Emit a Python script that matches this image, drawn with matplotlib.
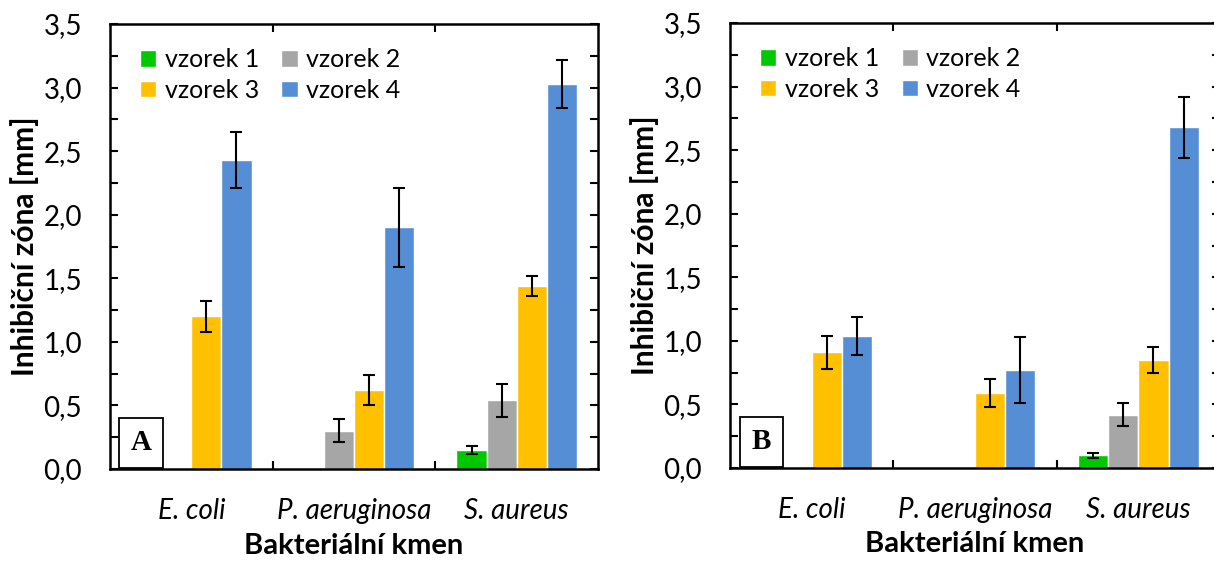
import numpy as np
import matplotlib
matplotlib.use("Agg")
import matplotlib.pyplot as plt
from matplotlib.ticker import MultipleLocator, FuncFormatter

plt.rcParams['font.family'] = ['Lato', 'DejaVu Sans']

strains = ['E. coli', 'P. aeruginosa', 'S. aureus']
samples = ['vzorek 1', 'vzorek 2', 'vzorek 3', 'vzorek 4']
colors = ['#00C800', '#A6A6A6', '#FFC000', '#558ED5']

# panel A: rows = samples, columns = strains
a_vals = [[0.0, 0.0, 0.15],
          [0.0, 0.30, 0.54],
          [1.20, 0.62, 1.44],
          [2.43, 1.90, 3.03]]
a_err = [[0.0, 0.0, 0.03],
         [0.0, 0.09, 0.13],
         [0.12, 0.12, 0.08],
         [0.22, 0.31, 0.19]]

# panel B
b_vals = [[0.0, 0.0, 0.10],
          [0.0, 0.0, 0.42],
          [0.91, 0.59, 0.85],
          [1.04, 0.77, 2.68]]
b_err = [[0.0, 0.0, 0.02],
         [0.0, 0.0, 0.09],
         [0.13, 0.11, 0.10],
         [0.15, 0.26, 0.24]]

panels = [('A', a_vals, a_err), ('B', b_vals, b_err)]

fig = plt.figure(figsize=(12.14, 5.63), dpi=100)
# right panel runs slightly past the canvas edge, as in the original
positions = [[110 / 1214, 94 / 563, 488 / 1214, 445 / 563],
             [730 / 1214, 95 / 563, 490 / 1214, 445 / 563]]

x = np.arange(len(strains))
w = 0.185

for pos, (tag, vals, errs) in zip(positions, panels):
    ax = fig.add_axes(pos)
    handles = []
    for i in range(len(samples)):
        off = (i - 1.5) * w
        b = ax.bar(x + off, vals[i], w, color=colors[i], edgecolor='white',
                   linewidth=1.0, label=samples[i], zorder=2)
        handles.append(b)
        show = [j for j in range(len(strains)) if vals[i][j] > 0]
        ax.errorbar(x[show] + off, np.array(vals[i])[show],
                    yerr=np.array(errs[i])[show], fmt='none', ecolor='black',
                    elinewidth=1.5, capsize=4.5, capthick=1.5, zorder=3)

    ax.set_xlim(-0.5, 2.5)
    ax.set_ylim(0, 3.5)
    ax.set_xticks(x)
    ax.set_xticklabels(strains, fontstyle='italic', fontsize=20)
    ax.set_xticks([0.5, 1.5], minor=True)
    ax.tick_params(axis='x', which='major', length=0, pad=21)
    ax.tick_params(axis='x', which='minor', direction='in', length=6,
                   width=1.5, top=True, bottom=True)
    ax.yaxis.set_major_locator(MultipleLocator(0.5))
    ax.yaxis.set_minor_locator(MultipleLocator(0.25))
    ax.yaxis.set_major_formatter(FuncFormatter(lambda v, p: f"{v:.1f}".replace('.', ',')))
    ax.tick_params(axis='y', which='both', direction='in', length=6, width=1.5,
                   left=True, right=True, labelsize=20, pad=20)
    for s in ax.spines.values():
        s.set_linewidth(1.8)

    ax.set_ylabel('Inhibiční zóna [mm]', fontsize=21.5, fontweight='bold', labelpad=3)
    ax.set_xlabel('Bakteriální kmen', fontsize=21, fontweight='bold', labelpad=6)

    # order so that rows read vzorek 1, 2 / vzorek 3, 4
    order = [0, 2, 1, 3]
    ax.legend([handles[k] for k in order], [samples[k] for k in order],
              ncol=2, loc='upper left', bbox_to_anchor=(0.025, 0.985), frameon=False,
              fontsize=18, handlelength=0.65, handleheight=0.65, handletextpad=0.35,
              columnspacing=0.9, labelspacing=0.3, borderaxespad=0.3)

    ax.text(0.064, 0.059, tag, transform=ax.transAxes, fontsize=21,
            fontweight='bold', family='Liberation Serif', ha='center', va='center',
            bbox=dict(boxstyle='square,pad=0.4', facecolor='white',
                      edgecolor='black', linewidth=1.3), zorder=4)

fig.savefig('out.png', dpi=100)
